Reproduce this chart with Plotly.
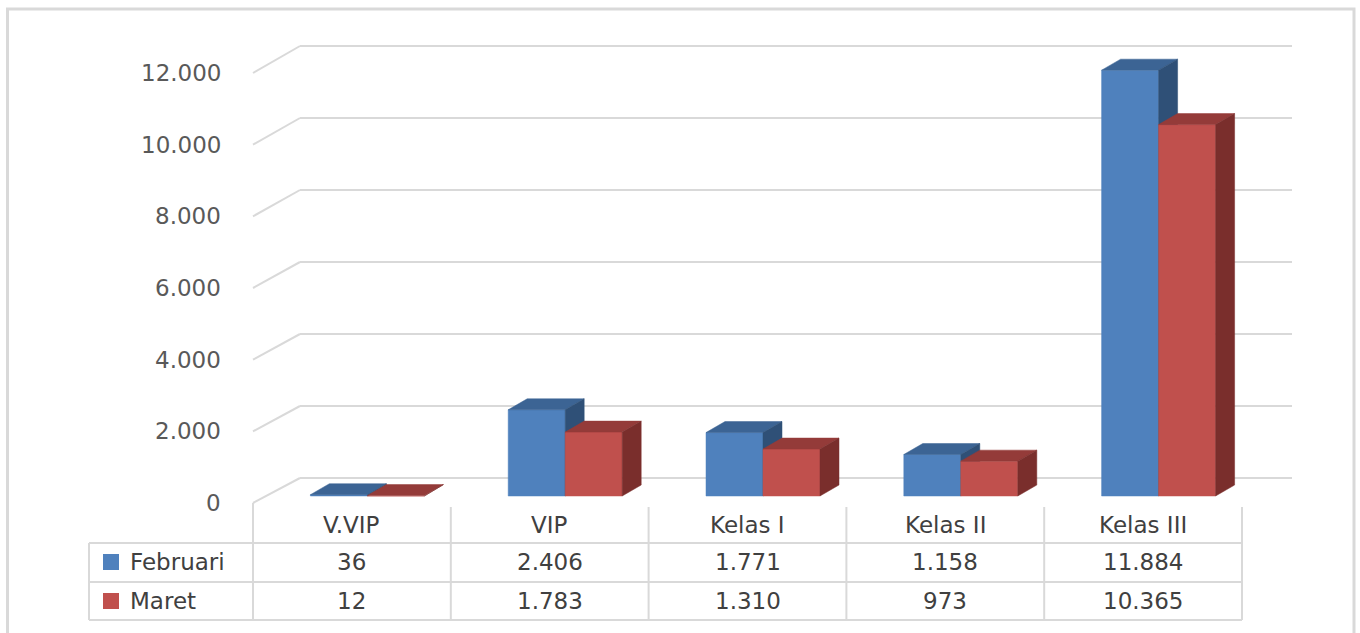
import plotly.graph_objects as go

# ---------------- data ----------------
categories = ["V.VIP", "VIP", "Kelas I", "Kelas II", "Kelas III"]
series_names = ["Februari", "Maret"]
februari = [36, 2406, 1771, 1158, 11884]
maret = [12, 1783, 1310, 973, 10365]
y_ticks = [0, 2000, 4000, 6000, 8000, 10000, 12000]
y_tick_labels = ["0", "2.000", "4.000", "6.000", "8.000", "10.000", "12.000"]

# ---------------- layout constants (pixels) ----------------
W, H = 1360, 633
COL0_PX = 253.0          # left edge of first category column
COL_W = 197.8            # width of one category column
BASE_PX = 496.0          # pixel row of value 0 for the bar fronts
K = 430.0 / 12000.0      # pixels per value unit

def xu(px):               # pixel x -> category units
    return (px - COL0_PX) / COL_W - 0.5

def yu(dpx):              # pixel height -> value units
    return dpx / K

def py(px):               # pixel y -> paper
    return 1 - px / H

def fmt(v):
    return f"{v:,}".replace(",", ".")

FONT = "DejaVu Sans"
FS = 23
GRID = "#D9D9D9"

colors = {
    "Februari": ("#4F81BD", "#3C6494", "#2F5077"),
    "Maret": ("#C0504D", "#943B39", "#7A2E2C"),
}

bar_w = 57 / COL_W
offsets = {"Februari": -41.5 / COL_W, "Maret": -41.5 / COL_W + bar_w}
DX = 19 / COL_W
DY = yu(11)

fig = go.Figure()

# ---------------- bars (front, top, side faces) ----------------
for name, vals in (("Februari", februari), ("Maret", maret)):
    front_c, top_c, side_c = colors[name]
    for i, v in enumerate(vals):
        x0 = i + offsets[name]
        x1 = x0 + bar_w
        fig.add_trace(go.Scatter(
            x=[x0, x1, x1, x0, x0], y=[0, 0, v, v, 0], mode="lines",
            fill="toself", fillcolor=front_c, line=dict(width=0.5, color=front_c),
            hoverinfo="skip", showlegend=False))
        fig.add_trace(go.Scatter(
            x=[x0, x1, x1 + DX, x0 + DX, x0], y=[v, v, v + DY, v + DY, v], mode="lines",
            fill="toself", fillcolor=top_c, line=dict(width=0.5, color=top_c),
            hoverinfo="skip", showlegend=False))
        fig.add_trace(go.Scatter(
            x=[x1, x1 + DX, x1 + DX, x1, x1], y=[0, DY, v + DY, v, 0], mode="lines",
            fill="toself", fillcolor=side_c, line=dict(width=0.5, color=side_c),
            hoverinfo="skip", showlegend=False))

shapes = []

# ---------------- gridlines (3D wall) ----------------
x_front = xu(253)
x_back = xu(300)
x_end = xu(1292)
for v in y_ticks:
    yf = v - yu(7)
    yb = v * 1.00465 + yu(18)
    shapes.append(dict(type="line", xref="x", yref="y", x0=x_front, y0=yf, x1=x_back, y1=yb,
                       line=dict(color=GRID, width=2), layer="below"))
    shapes.append(dict(type="line", xref="x", yref="y", x0=x_back, y0=yb, x1=x_end, y1=yb,
                       line=dict(color=GRID, width=2), layer="below"))

# ---------------- data table ----------------
n = len(categories)
x_tab_left = xu(89)
for ypx in (543, 582, 620):
    shapes.append(dict(type="line", xref="x", yref="paper", x0=x_tab_left, x1=n - 0.5,
                       y0=py(ypx), y1=py(ypx), line=dict(color=GRID, width=2)))
shapes.append(dict(type="line", xref="x", yref="paper", x0=x_tab_left, x1=x_tab_left,
                   y0=py(543), y1=py(620), line=dict(color=GRID, width=2)))
shapes.append(dict(type="line", xref="x", yref="paper", x0=-0.5, x1=-0.5,
                   y0=py(503), y1=py(620), line=dict(color=GRID, width=2)))
for i in range(n):
    xb = i + 0.5
    shapes.append(dict(type="line", xref="x", yref="paper", x0=xb, x1=xb,
                       y0=py(507), y1=py(620), line=dict(color=GRID, width=2)))

# legend keys
for name, yc in (("Februari", 562), ("Maret", 601)):
    shapes.append(dict(type="rect", xref="paper", yref="paper",
                       x0=103 / W, x1=119 / W, y0=py(yc + 8), y1=py(yc - 8),
                       fillcolor=colors[name][0], line=dict(width=0)))

# outer border
shapes.append(dict(type="rect", xref="paper", yref="paper",
                   x0=7.5 / W, x1=1354 / W, y0=py(660), y1=py(9),
                   line=dict(color=GRID, width=3), fillcolor="rgba(0,0,0,0)"))

annotations = []
for v, lab in zip(y_ticks, y_tick_labels):
    annotations.append(dict(x=223 / W, xref="paper", y=v - yu(7), yref="y", text=lab,
                            showarrow=False, xanchor="right", yanchor="middle",
                            font=dict(family=FONT, size=FS, color="#595959")))
for i, c in enumerate(categories):
    annotations.append(dict(x=i, xref="x", y=py(525), yref="paper", text=c,
                            showarrow=False, xanchor="center", yanchor="middle",
                            font=dict(family=FONT, size=FS, color="#404040")))
for name, vals, yc in (("Februari", februari, 562), ("Maret", maret, 601)):
    annotations.append(dict(x=128 / W, xref="paper", y=py(yc), yref="paper", text=name,
                            showarrow=False, xanchor="left", yanchor="middle",
                            font=dict(family=FONT, size=FS, color="#404040")))
    for i, v in enumerate(vals):
        annotations.append(dict(x=i, xref="x", y=py(yc), yref="paper", text=fmt(v),
                                showarrow=False, xanchor="center", yanchor="middle",
                                font=dict(family=FONT, size=FS, color="#404040")))

fig.update_layout(
    width=W, height=H,
    margin=dict(l=0, r=0, t=0, b=0),
    paper_bgcolor="white", plot_bgcolor="white",
    showlegend=False,
    shapes=shapes, annotations=annotations,
    xaxis=dict(range=[xu(0), xu(W)], visible=False, fixedrange=True),
    yaxis=dict(range=[-(H - BASE_PX) / K, BASE_PX / K], visible=False, fixedrange=True),
)

fig.write_html("out.html", config={"displayModeBar": False},
               post_script="document.body.style.margin='0';document.body.style.overflow='hidden';")
